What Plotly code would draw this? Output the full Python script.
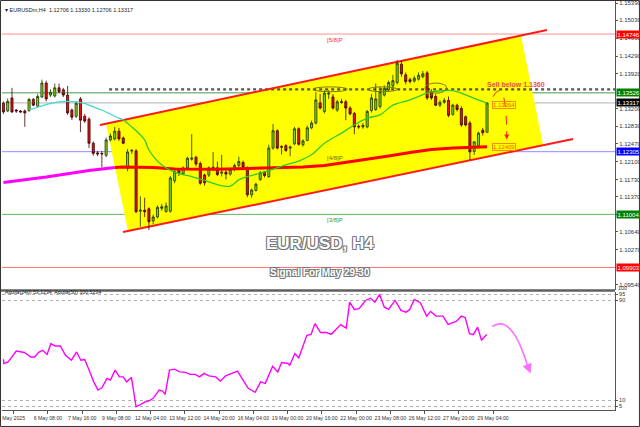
import plotly.graph_objects as go

# ---------------- DATA ----------------
bar_idx = list(range(114))
opens = [1.1331, 1.1315, 1.1342, 1.1317, 1.1315, 1.1315, 1.1316, 1.1339, 1.1325, 1.1344,
         1.1373, 1.1348, 1.1346, 1.1363, 1.1359, 1.1348, 1.1317, 1.1304, 1.1340, 1.1304,
         1.1298, 1.1248, 1.1228, 1.1227, 1.1223, 1.1255, 1.1257, 1.1273, 1.1259, 1.1196,
         1.1232, 1.1232, 1.1107, 1.1109, 1.1112, 1.1087, 1.1095, 1.1113, 1.1106, 1.1107,
         1.1170, 1.1192, 1.1185, 1.1197, 1.1215, 1.1219, 1.1206, 1.1182, 1.1182, 1.1196,
         1.1197, 1.1186, 1.1188, 1.1184, 1.1194, 1.1202, 1.1208, 1.1197, 1.1141, 1.1150,
         1.1173, 1.1188, 1.1179, 1.1238, 1.1274, 1.1241, 1.1243, 1.1238, 1.1247, 1.1278,
         1.1245, 1.1254, 1.1280, 1.1290, 1.1332, 1.1314, 1.1350, 1.1344, 1.1317, 1.1334,
         1.1334, 1.1321, 1.1310, 1.1283, 1.1282, 1.1282, 1.1316, 1.1318, 1.1324, 1.1348,
         1.1359, 1.1367, 1.1374, 1.1412, 1.1390, 1.1380, 1.1377, 1.1381, 1.1386, 1.1394,
         1.1355, 1.1345, 1.1327, 1.1333, 1.1337, 1.1308, 1.1327, 1.1320, 1.1303, 1.1290,
         1.1231, 1.1243, 1.1275, 1.12706]
highs = [1.1335, 1.1341, 1.1363, 1.1319, 1.1317, 1.1318, 1.1342, 1.1342, 1.1350, 1.1380,
         1.1378, 1.1360, 1.1372, 1.1372, 1.1363, 1.1367, 1.1320, 1.1335, 1.1344, 1.1309,
         1.1302, 1.1252, 1.1232, 1.1232, 1.1260, 1.1268, 1.1282, 1.1280, 1.1262, 1.1236,
         1.1236, 1.1236, 1.1138, 1.1135, 1.1115, 1.1100, 1.1119, 1.1122, 1.1125, 1.1180,
         1.1192, 1.1195, 1.1200, 1.1220, 1.1267, 1.1222, 1.1210, 1.1185, 1.1200, 1.1230,
         1.1210, 1.1224, 1.1192, 1.1196, 1.1206, 1.1220, 1.1212, 1.1200, 1.1154, 1.1166,
         1.1190, 1.1190, 1.1245, 1.1288, 1.1277, 1.1244, 1.1246, 1.1243, 1.1282, 1.1281,
         1.1256, 1.1285, 1.1295, 1.1354, 1.1350, 1.1358, 1.1358, 1.1350, 1.1338, 1.1340,
         1.1338, 1.1325, 1.1313, 1.1287, 1.1290, 1.1317, 1.1350, 1.1372, 1.1365, 1.1368,
         1.1378, 1.1390, 1.1421, 1.1420, 1.1395, 1.1384, 1.1388, 1.1395, 1.1398, 1.1398,
         1.1360, 1.1350, 1.1337, 1.1342, 1.1345, 1.1330, 1.1330, 1.1325, 1.1306, 1.1294,
         1.1252, 1.1272, 1.1280, 1.13330]
lows = [1.1309, 1.1313, 1.1311, 1.1311, 1.1311, 1.1282, 1.1313, 1.1325, 1.1323, 1.1342,
        1.1335, 1.1344, 1.1343, 1.1352, 1.1344, 1.1307, 1.1296, 1.1300, 1.1271, 1.1290,
        1.1238, 1.1222, 1.1221, 1.1198, 1.1219, 1.1252, 1.1254, 1.1253, 1.1246, 1.1190,
        1.1226, 1.1103, 1.1075, 1.1095, 1.1068, 1.1080, 1.1092, 1.1108, 1.1104, 1.1104,
        1.1165, 1.1180, 1.1182, 1.1194, 1.1212, 1.1200, 1.1162, 1.1160, 1.1178, 1.1190,
        1.1180, 1.1179, 1.1173, 1.1181, 1.1190, 1.1198, 1.1195, 1.1136, 1.1135, 1.1148,
        1.1170, 1.1177, 1.1176, 1.1235, 1.1235, 1.1225, 1.1230, 1.1221, 1.1244, 1.1243,
        1.1241, 1.1252, 1.1277, 1.1287, 1.1318, 1.1310, 1.1340, 1.1318, 1.1313, 1.1330,
        1.1296, 1.1306, 1.1267, 1.1278, 1.1278, 1.1279, 1.1312, 1.1315, 1.1320, 1.1345,
        1.1355, 1.1362, 1.1370, 1.1386, 1.1370, 1.1372, 1.1374, 1.1378, 1.1383, 1.1338,
        1.1338, 1.1325, 1.1323, 1.1330, 1.1302, 1.1305, 1.1314, 1.1282, 1.1283, 1.1213,
        1.1224, 1.1240, 1.1264, 1.12706]
closes = [1.1313, 1.1335, 1.1313, 1.1315, 1.1313, 1.1311, 1.1339, 1.1327, 1.1345, 1.1373,
          1.1340, 1.1354, 1.1363, 1.1355, 1.1348, 1.1311, 1.1302, 1.1331, 1.1296, 1.1294,
          1.1248, 1.1227, 1.1226, 1.1226, 1.1255, 1.1263, 1.1273, 1.1257, 1.1248, 1.1230,
          1.1233, 1.1106, 1.1109, 1.1106, 1.1085, 1.1095, 1.1115, 1.1116, 1.1118, 1.1176,
          1.1189, 1.1186, 1.1197, 1.1217, 1.1217, 1.1205, 1.1165, 1.1166, 1.1197, 1.1198,
          1.1183, 1.1188, 1.1184, 1.1193, 1.1202, 1.1210, 1.1198, 1.1141, 1.1151, 1.1163,
          1.1187, 1.1181, 1.1238, 1.1274, 1.1238, 1.1240, 1.1233, 1.1240, 1.1278, 1.1246,
          1.1253, 1.1280, 1.1290, 1.1338, 1.1321, 1.1352, 1.1352, 1.1321, 1.1334, 1.1333,
          1.1321, 1.1309, 1.1282, 1.1282, 1.1285, 1.1314, 1.1342, 1.1340, 1.1355, 1.1362,
          1.1374, 1.1378, 1.1414, 1.1392, 1.1376, 1.1376, 1.1383, 1.1389, 1.1392, 1.1342,
          1.1342, 1.1327, 1.1333, 1.1337, 1.1306, 1.1327, 1.1318, 1.1286, 1.1286, 1.1230,
          1.1251, 1.1269, 1.1270, 1.13317]

# slow moving average (magenta outside channel, red inside)
ma_slow_out_x = [0, 10, 20, 26]
ma_slow_out_y = [1.11665, 1.11779, 1.11914, 1.11975]
ma_slow_in_x = [26, 28, 35, 40, 50, 60, 70, 75, 80, 85, 90, 95, 100, 105, 110, 113]
ma_slow_in_y = [1.11975, 1.11987, 1.11977, 1.11945, 1.11939, 1.11960, 1.11987, 1.12018,
                1.12080, 1.12143, 1.12215, 1.12288, 1.12350, 1.12381, 1.12402, 1.12409]
# fast moving average (cyan outside channel, green inside)
ma_fast_out_x = [6, 13, 19, 20, 23, 27, 28]
ma_fast_out_y = [1.1317, 1.1334, 1.1331, 1.1327, 1.1317, 1.1300, 1.1297]
ma_fast_in_x = [28, 30, 33, 34, 37, 40, 44, 47, 51, 53, 55, 57, 60, 66, 69, 72, 75, 79,
                82, 85, 88, 91, 95, 99, 102, 105, 107, 110, 113]
ma_fast_in_y = [1.1297, 1.1282, 1.1255, 1.1234, 1.1203, 1.1188, 1.1179, 1.1171, 1.1160,
                1.1159, 1.1172, 1.1179, 1.1186, 1.1203, 1.1211, 1.1224, 1.1248, 1.1269,
                1.1286, 1.1300, 1.1307, 1.1327, 1.1338, 1.1352, 1.1357, 1.1357, 1.1352,
                1.1341, 1.1331]

# oscillator (Aquila)
osc_x = [0.0, 0.1, 1.1, 3.0, 4.9, 6.4, 7.3, 8.3, 9.2, 10.2, 11.1, 12.1, 13.3, 14.5, 15.9,
         17.1, 18.1, 19.0, 20.2, 21.1, 22.1, 23.0, 24.2, 25.0, 26.1, 27.1, 28.0, 28.8, 29.9,
         31.0, 32.1, 33.1, 34.0, 35.0, 36.4, 37.2, 37.8, 38.8, 40.0, 41.2, 42.6, 43.6, 44.8,
         45.8, 46.9, 48.0, 49.6, 50.7, 51.9, 53.4, 54.7, 56.0, 57.2, 58.8, 60.1, 61.2, 62.9,
         64.1, 65.0, 66.5, 66.9, 68.1, 69.0, 70.9, 71.9, 72.8, 74.1, 75.5, 76.6, 78.8, 80.1,
         80.9, 82.0, 83.1, 84.6, 85.8, 86.8, 87.9, 89.0, 90.0, 91.5, 92.9, 94.1, 94.9, 96.0,
         97.4, 98.9, 99.8, 101.1, 102.7, 103.9, 105.8, 107.0, 107.9, 108.9, 109.8, 110.8,
         111.7, 112.9]
osc_y = [42.8, 39.4, 40.6, 49.4, 48.2, 44.6, 44.6, 48.6, 50.0, 46.6, 55.4, 53.4, 53.4, 46.0,
         42.0, 48.6, 42.0, 42.6, 32.6, 24.6, 18.0, 19.8, 27.4, 26.0, 34.0, 28.6, 28.6, 24.6,
         28.2, 4.6, 6.6, 8.6, 9.4, 11.4, 18.0, 17.2, 14.6, 34.0, 34.8, 32.6, 32.2, 30.6, 30.6,
         28.6, 31.4, 29.4, 28.6, 25.2, 29.4, 31.4, 33.2, 26.0, 19.4, 16.2, 24.6, 23.4, 37.2,
         32.6, 40.2, 39.4, 38.0, 47.4, 43.8, 62.0, 62.8, 71.4, 64.2, 64.2, 62.8, 70.6, 67.8,
         88.6, 82.8, 83.4, 90.0, 91.8, 88.6, 94.8, 84.6, 82.8, 90.0, 82.0, 80.6, 82.6, 90.8,
         88.2, 77.4, 81.2, 77.4, 77.4, 70.8, 73.2, 77.4, 76.2, 63.4, 62.6, 68.6, 58.0, 62.6]

# horizontal levels and their price tags
level_vals = [1.14746, 1.13526, 1.13317, 1.12305, 1.11004, 1.09903]
level_line_colors = ['#ff9090', '#40a040', '#b4b4b4', '#8c8cff', '#60b860', '#ff7070']
level_tag_colors = ['#ff0000', '#008000', '#000000', '#0000ff', '#008000', '#ff0000']
level_names = ['[5/8]P', None, None, '[4/8]P', '[3/8]P', None]
level_name_colors = ['#ff3030', None, None, '#6b6b00', '#2f9a2f', None]

price_ticks = [1.09540, 1.10270, 1.10640, 1.11000, 1.11370, 1.11730, 1.12100,
               1.12470, 1.12830, 1.13200, 1.13920, 1.14290, 1.14660, 1.15030, 1.15390]

time_label_bars = [-1, 7, 15, 23, 31, 39, 47, 55, 63, 71, 79, 87, 95, 103, 111]
time_labels = ['May 2025', '6 May 08:00', '7 May 16:00', '9 May 08:00', '12 May 04:00',
               '13 May 12:00', '14 May 20:00', '16 May 04:00', '19 May 00:00', '20 May 16:00',
               '22 May 00:00', '23 May 08:00', '26 May 12:00', '27 May 20:00', '29 May 04:00']

# channel (yellow fill + red borders)
chan_x = [23.97, 120.93, 126.1, 29.11]
chan_y = [1.12886, 1.14716, 1.12439, 1.10659]
chan_up_x = [22.57, 127.0]
chan_up_y = [1.12859, 1.14830]
chan_lo_x = [27.94, 133.1]
chan_lo_y = [1.10638, 1.12568]

sell_level = 1.1360
sell_start_bar = 24.7
ell_x0 = [72.3, 85.2, 98.5]
ell_x1 = [80.4, 92.0, 103.6]
ell_y0 = [1.1355, 1.1355, 1.1352]
ell_y1 = [1.1365, 1.1365, 1.1373]

box_vals = [1.13264, 1.12409]
box_bar = 114.1

FONT = 'Liberation Sans, Arial, sans-serif'

# ---------------- FIGURE ----------------
fig = go.Figure()

fig.add_trace(go.Scatter(x=ma_slow_out_x, y=ma_slow_out_y, mode='lines',
                         line=dict(color='#ff00ff', width=3), hoverinfo='skip'))
fig.add_trace(go.Scatter(x=ma_slow_in_x, y=ma_slow_in_y, mode='lines',
                         line=dict(color='#ff0000', width=3), hoverinfo='skip'))
fig.add_trace(go.Scatter(x=ma_fast_out_x, y=ma_fast_out_y, mode='lines',
                         line=dict(color='#40d8d0', width=1.3, shape='spline'), hoverinfo='skip'))
fig.add_trace(go.Scatter(x=ma_fast_in_x, y=ma_fast_in_y, mode='lines',
                         line=dict(color='#2ecc2e', width=1.3, shape='spline'), hoverinfo='skip'))

fig.add_trace(go.Candlestick(
    x=bar_idx, open=opens, high=highs, low=lows, close=closes,
    increasing=dict(line=dict(color='#1f3300', width=0.8), fillcolor='#7fd41a'),
    decreasing=dict(line=dict(color='#400000', width=0.8), fillcolor='#e51010'),
    whiskerwidth=0, hoverinfo='skip'))

fig.add_trace(go.Scatter(x=osc_x, y=osc_y, mode='lines', yaxis='y2',
                         line=dict(color='#ff00ff', width=1.4), hoverinfo='skip'))

shapes = []
chan_path = 'M ' + ' L '.join(f'{x},{y}' for x, y in zip(chan_x, chan_y)) + ' Z'
shapes.append(dict(type='path', path=chan_path, xref='x', yref='y',
                   fillcolor='#ffff00', line=dict(width=0), layer='below'))
for v, c in zip(level_vals, level_line_colors):
    shapes.append(dict(type='line', xref='paper', yref='y', x0=0, x1=1, y0=v, y1=v,
                       line=dict(color=c, width=1), layer='below'))
shapes.append(dict(type='line', xref='x', yref='y', x0=sell_start_bar, x1=142.9,
                   y0=sell_level, y1=sell_level,
                   line=dict(color='#555555', width=2.2, dash='dot'), layer='below'))
shapes.append(dict(type='line', xref='x', yref='y', x0=chan_up_x[0], x1=chan_up_x[1],
                   y0=chan_up_y[0], y1=chan_up_y[1], line=dict(color='#ff1a1a', width=2),
                   layer='below'))
shapes.append(dict(type='line', xref='x', yref='y', x0=chan_lo_x[0], x1=chan_lo_x[1],
                   y0=chan_lo_y[0], y1=chan_lo_y[1], line=dict(color='#ff1a1a', width=2),
                   layer='below'))
for a, b, c, d in zip(ell_x0, ell_x1, ell_y0, ell_y1):
    shapes.append(dict(type='circle', xref='x', yref='y', x0=a, x1=b, y0=c, y1=d,
                       line=dict(color='#7a7a00', width=1), layer='above'))
# red dashed curved arrow
shapes.append(dict(type='path', xref='x', yref='y',
                   path='M 114.4,1.13446 Q 117.4,1.13900 117.6,1.12700',
                   line=dict(color='#ff2020', width=1, dash='dash'), layer='above'))
# magenta curved arrow in oscillator
shapes.append(dict(type='path', xref='x', yref='y2',
                   path='M 114.2,69.0 Q 118.8,80.0 122.6,36.0',
                   line=dict(color='#ff70ff', width=1.6), layer='above'))
# panel separator
shapes.append(dict(type='line', xref='paper', yref='paper', x0=-0.005, x1=1.0,
                   y0=0.2922, y1=0.2922, line=dict(color='#606060', width=2.5)))
# outer frame
shapes.append(dict(type='rect', xref='paper', yref='paper', x0=-0.0024, x1=1.0399,
                   y0=-0.0403, y1=1.0012, line=dict(color='#333333', width=1)))

annotations = []
for v, c in zip(level_vals, level_tag_colors):
    annotations.append(dict(x=1.0016, xref='paper', xanchor='left', y=v, yref='y',
                            text=f'{v:.5f}', showarrow=False, bgcolor=c, borderpad=0.5,
                            font=dict(family=FONT, size=6, color='white')))
for v, n, c in zip(level_vals, level_names, level_name_colors):
    if n:
        annotations.append(dict(x=77.5, xref='x', y=v, yref='y', yanchor='top', yshift=-1,
                                text=n, showarrow=False,
                                font=dict(family=FONT, size=6, color=c)))
for v in box_vals:
    annotations.append(dict(x=box_bar, xref='x', xanchor='left', y=v, yref='y',
                            text=f'{v:.5f}', showarrow=False, bordercolor='#ff8c00',
                            borderwidth=1, borderpad=0,
                            font=dict(family=FONT, size=6, color='#ff5a00')))
annotations.append(dict(x=119.7, xref='x', y=1.13703, yref='y', text='<b>Sell below 1.1360</b>',
                        showarrow=False, font=dict(family=FONT, size=7, color='#f04a4a')))
annotations.append(dict(x=117.6, y=1.12560, xref='x', yref='y', ax=117.58, ay=1.12760,
                        axref='x', ayref='y', text='', showarrow=True, arrowhead=2,
                        arrowsize=1, arrowwidth=1, arrowcolor='#ff2020'))
annotations.append(dict(x=123.2, y=31.4, xref='x', yref='y2', ax=122.6, ay=36.5,
                        axref='x', ayref='y2', text='', showarrow=True, arrowhead=2,
                        arrowsize=1.2, arrowwidth=1.6, arrowcolor='#ff70ff'))
shadow = '1px 1px 0 #777, -1px -1px 0 #777, 1px -1px 0 #777, -1px 1px 0 #777'
annotations.append(dict(x=0.5188, y=0.4083, xref='paper', yref='paper',
                        text='<b>EUR/USD, H4</b>', showarrow=False,
                        font=dict(family=FONT, size=17, color='white', shadow=shadow)))
annotations.append(dict(x=0.5185, y=0.335, xref='paper', yref='paper',
                        text='<b>Signal For May 29-30</b>', showarrow=False,
                        font=dict(family=FONT, size=10, color='white', shadow=shadow)))
annotations.append(dict(x=0.0016, y=0.990, xref='paper', yref='paper', xanchor='left',
                        text='▾ EURUSDm,H4  1.12706 1.13330 1.12706 1.13317', showarrow=False,
                        font=dict(family=FONT, size=5.5, color='#222222')))
annotations.append(dict(x=0.0016, y=0.276, xref='paper', yref='paper', xanchor='left',
                        text='Aquila(240) 53.1234  Aquila(50) 100.5234', showarrow=False,
                        font=dict(family=FONT, size=5.2, color='#222222')))
annotations.append(dict(x=1.0016, y=0.2862, xref='paper', yref='paper', xanchor='left',
                        text='100', showarrow=False,
                        font=dict(family=FONT, size=5.5, color='#333333')))

fig.update_layout(
    width=640, height=427,
    margin=dict(l=2, r=25, t=1, b=17, autoexpand=False),
    paper_bgcolor='white', plot_bgcolor='white',
    showlegend=False, hovermode=False,
    font=dict(family=FONT, size=6, color='#333333'),
    xaxis=dict(range=[-0.33, 142.9], anchor='y2', showgrid=False, zeroline=False,
               rangeslider=dict(visible=False), showline=True, linecolor='#555555',
               ticks='outside', ticklen=3, tickcolor='#555555',
               tickvals=[b + 3.4 for b in time_label_bars], ticktext=time_labels,
               tickfont=dict(family=FONT, size=5.2, color='#333333')),
    yaxis=dict(domain=[0.2934, 1.0], range=[1.09435, 1.15432], side='right', anchor='x',
               showgrid=False, zeroline=False, showline=True, linecolor='#555555',
               ticks='outside', ticklen=2, tickcolor='#555555',
               tickvals=price_ticks, ticktext=[f'{t:.5f}' for t in price_ticks],
               tickfont=dict(family=FONT, size=6, color='#333333')),
    yaxis2=dict(domain=[0.0, 0.2873], range=[2.0, 96.4], side='right', anchor='x',
                showgrid=True, gridcolor='#b0b0b0', griddash='dot', gridwidth=1,
                zeroline=False, showline=True, linecolor='#555555',
                ticks='outside', ticklen=2, tickcolor='#555555',
                tickvals=[5, 10, 90, 95], ticktext=['5', '10', '90', '95'],
                tickfont=dict(family=FONT, size=5.5, color='#333333')),
    shapes=shapes, annotations=annotations,
)

fig.write_html('out.html', config={'displayModeBar': False},
               post_script="document.body.style.margin='0';document.body.style.overflow='hidden';")
